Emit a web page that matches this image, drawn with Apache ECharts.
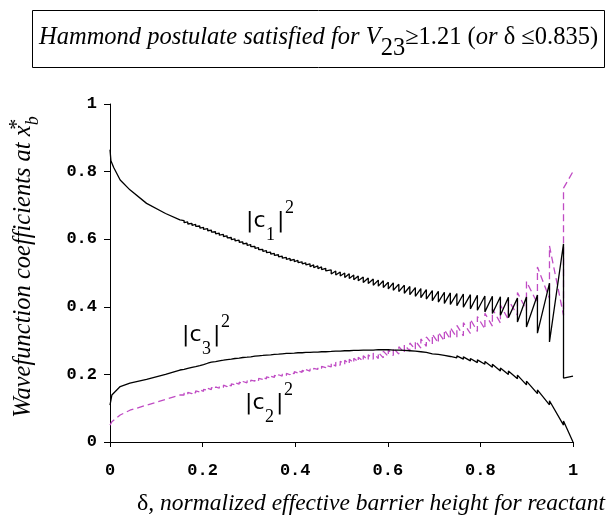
<!DOCTYPE html>
<html>
<head>
<meta charset="utf-8">
<script src="https://cdn.jsdelivr.net/npm/echarts@6/dist/echarts.min.js"></script>
<style>
  html, body { margin: 0; padding: 0; background: #fff; }
  #chart { width: 611px; height: 521px; }
</style>
</head>
<body>
<div id="chart"></div>
<script>
// tick labels
const xTicks = [0, 0.2, 0.4, 0.6, 0.8, 1]
const yTicks = [0, 0.2, 0.4, 0.6, 0.8, 1]

// smooth start of each curve, [delta, value]
const c1Head = [[0, 0.865], [0.002, 0.832], [0.008, 0.812], [0.022, 0.775], [0.043, 0.746], [0.079, 0.706],
  [0.12, 0.676], [0.151, 0.657]]
const c2Head = [[0, 0.05], [0.004, 0.06], [0.022, 0.08], [0.043, 0.094], [0.079, 0.109], [0.12, 0.126],
  [0.151, 0.139]]
const c3Head = [[0, 0.109], [0.004, 0.139], [0.022, 0.164], [0.043, 0.174], [0.079, 0.185], [0.12, 0.2],
  [0.151, 0.213]]

// positions of the saw-tooth jumps (small ripples first, then the big teeth)
const dropAt = [0.160, 0.168, 0.177, 0.185, 0.194, 0.202, 0.211, 0.219, 0.228, 0.236,
  0.245, 0.253, 0.262, 0.270, 0.279, 0.287, 0.296, 0.304, 0.313, 0.321,
  0.330, 0.338, 0.347, 0.355, 0.364, 0.372, 0.381, 0.389, 0.398, 0.406,
  0.415, 0.423, 0.432, 0.440, 0.449, 0.457, 0.466,
  0.4778, 0.4876, 0.4973, 0.5070, 0.5168, 0.5265, 0.5362, 0.5470, 0.5578, 0.5686,
  0.5795, 0.5903, 0.6011, 0.6119, 0.6238, 0.6357, 0.6476, 0.6595, 0.6714, 0.6832,
  0.6962, 0.7092, 0.7222, 0.7351, 0.7492, 0.7632, 0.7784, 0.7935, 0.8097, 0.8259,
  0.8432, 0.8605, 0.8800, 0.8995, 0.9232, 0.9492, 0.9795]

// |c1|^2 just before / after each jump
const c1Before = [0.655, 0.651, 0.647, 0.644, 0.639, 0.635, 0.631, 0.627, 0.622, 0.618,
  0.614, 0.610, 0.605, 0.601, 0.597, 0.592, 0.588, 0.584, 0.579, 0.575,
  0.570, 0.566, 0.562, 0.558, 0.554, 0.550, 0.546, 0.543, 0.540, 0.537,
  0.533, 0.530, 0.527, 0.524, 0.521, 0.518, 0.514,
  0.509, 0.506, 0.503, 0.500, 0.498, 0.494, 0.491, 0.488, 0.485, 0.482,
  0.479, 0.477, 0.473, 0.471, 0.467, 0.464, 0.460, 0.457, 0.454, 0.451,
  0.448, 0.446, 0.443, 0.441, 0.439, 0.438, 0.436, 0.434, 0.432, 0.431,
  0.430, 0.428, 0.426, 0.429, 0.435, 0.470, 0.586]
const c1After = [0.649, 0.645, 0.641, 0.638, 0.633, 0.629, 0.625, 0.621, 0.616, 0.612,
  0.608, 0.604, 0.599, 0.595, 0.591, 0.586, 0.582, 0.578, 0.573, 0.569,
  0.564, 0.560, 0.556, 0.552, 0.548, 0.544, 0.540, 0.537, 0.534, 0.531,
  0.527, 0.524, 0.519, 0.516, 0.513, 0.510, 0.506,
  0.497, 0.494, 0.491, 0.487, 0.484, 0.480, 0.477, 0.472, 0.469, 0.464,
  0.461, 0.457, 0.453, 0.449, 0.445, 0.440, 0.436, 0.431, 0.427, 0.423,
  0.418, 0.414, 0.410, 0.407, 0.403, 0.399, 0.394, 0.390, 0.385, 0.380,
  0.375, 0.368, 0.355, 0.340, 0.322, 0.296, 0.189]

// |c2|^2
const c2Before = [0.139, 0.141, 0.143, 0.145, 0.148, 0.150, 0.153, 0.155, 0.157, 0.159,
  0.162, 0.164, 0.166, 0.169, 0.171, 0.173, 0.175, 0.177, 0.180, 0.182,
  0.185, 0.187, 0.189, 0.191, 0.193, 0.195, 0.197, 0.199, 0.202, 0.204,
  0.206, 0.208, 0.210, 0.212, 0.215, 0.218, 0.220,
  0.222, 0.224, 0.227, 0.229, 0.231, 0.234, 0.237, 0.239, 0.242, 0.245,
  0.247, 0.249, 0.253, 0.256, 0.260, 0.264, 0.269, 0.273, 0.278, 0.283,
  0.289, 0.293, 0.299, 0.304, 0.309, 0.314, 0.321, 0.327, 0.334, 0.343,
  0.352, 0.362, 0.375, 0.390, 0.410, 0.425, 0.375]
const c2After = [0.145, 0.147, 0.149, 0.151, 0.154, 0.156, 0.159, 0.161, 0.163, 0.165,
  0.168, 0.170, 0.172, 0.175, 0.177, 0.179, 0.181, 0.183, 0.186, 0.188,
  0.191, 0.193, 0.195, 0.197, 0.199, 0.201, 0.203, 0.205, 0.208, 0.210,
  0.212, 0.214, 0.216, 0.218, 0.221, 0.224, 0.227,
  0.234, 0.236, 0.239, 0.242, 0.245, 0.248, 0.251, 0.255, 0.258, 0.263,
  0.265, 0.269, 0.273, 0.278, 0.282, 0.288, 0.293, 0.299, 0.305, 0.311,
  0.319, 0.325, 0.332, 0.338, 0.345, 0.353, 0.363, 0.371, 0.381, 0.394,
  0.405, 0.420, 0.442, 0.475, 0.518, 0.580, 0.751]

// |c3|^2
const c3Before = [0.215, 0.218, 0.221, 0.223, 0.226, 0.229, 0.233, 0.236, 0.238, 0.240,
  0.242, 0.244, 0.245, 0.247, 0.248, 0.250, 0.251, 0.252, 0.254, 0.255,
  0.256, 0.257, 0.258, 0.259, 0.260, 0.261, 0.262, 0.262, 0.263, 0.264,
  0.264, 0.265, 0.265, 0.266, 0.266, 0.267, 0.267,
  0.268, 0.269, 0.269, 0.270, 0.270, 0.271, 0.271, 0.272, 0.272, 0.272,
  0.273, 0.273, 0.273, 0.272, 0.272, 0.271, 0.270, 0.269, 0.267, 0.265,
  0.261, 0.259, 0.256, 0.253, 0.249, 0.245, 0.240, 0.235, 0.230, 0.221,
  0.210, 0.200, 0.187, 0.169, 0.143, 0.110, 0.050]
const c3After = [0.218, 0.221, 0.224, 0.226, 0.229, 0.232, 0.236, 0.239, 0.241, 0.243,
  0.245, 0.247, 0.248, 0.250, 0.251, 0.253, 0.254, 0.255, 0.257, 0.258,
  0.259, 0.260, 0.261, 0.262, 0.263, 0.264, 0.265, 0.265, 0.266, 0.267,
  0.267, 0.268, 0.268, 0.269, 0.269, 0.270, 0.270,
  0.271, 0.272, 0.272, 0.273, 0.273, 0.274, 0.274, 0.275, 0.275, 0.275,
  0.276, 0.276, 0.276, 0.275, 0.275, 0.274, 0.273, 0.272, 0.270, 0.268,
  0.266, 0.264, 0.261, 0.258, 0.255, 0.252, 0.247, 0.243, 0.238, 0.230,
  0.219, 0.210, 0.198, 0.180, 0.154, 0.122, 0.062]

const c1End = [1, 0.195]
const c2End = [1, 0.80]
const c3End = [1, 0]

const build = (head, before, after, end) => {
  const pts = head.slice()
  dropAt.forEach((d, i) => {
    pts.push([d, before[i]])
    pts.push([d, after[i]])
  })
  pts.push(end)
  return pts
}

const chart = echarts.init(document.getElementById('chart'), null, { renderer: 'canvas' })

const serif = '"Liberation Serif", "Times New Roman", serif'
const sans = '"DejaVu Sans", sans-serif'
const mono = '"Liberation Mono", "Courier New", monospace'

// one label like |c1|^2 built from pieces
const coef = (x, y, n) => [
  { type: 'text', x: x, y: y, style: { text: '|c', font: '22px ' + sans, fill: '#000' } },
  { type: 'text', x: x + 20, y: y + 16, style: { text: n, font: '18px ' + serif, fill: '#000' } },
  { type: 'text', x: x + 31, y: y, style: { text: '|', font: '22px ' + sans, fill: '#000' } },
  { type: 'text', x: x + 39, y: y - 11, style: { text: '2', font: '18px ' + serif, fill: '#000' } }
]

const lineSeries = (name, data, color, dash) => ({
  name: name,
  type: 'line',
  data: data,
  showSymbol: false,
  animation: false,
  silent: true,
  lineStyle: { color: color, width: 1.3, type: dash ? [7, 4] : 'solid' }
})

chart.setOption({
  backgroundColor: '#fff',
  animation: false,
  grid: { left: 110, right: 38, top: 104, bottom: 79 },
  xAxis: {
    type: 'value', min: 0, max: 1, interval: 0.2,
    splitLine: { show: false },
    axisLine: { lineStyle: { color: '#000', width: 1 } },
    axisTick: { length: 5, lineStyle: { color: '#000' } },
    axisLabel: {
      color: '#000', fontFamily: mono, fontWeight: 'bold', fontSize: 17, margin: 20,
      formatter: v => String(xTicks.find(t => Math.abs(t - v) < 1e-9) ?? v)
    }
  },
  yAxis: {
    type: 'value', min: 0, max: 1, interval: 0.2,
    splitLine: { show: false },
    axisLine: { show: true, lineStyle: { color: '#000', width: 1 } },
    axisTick: { show: true, length: 6, lineStyle: { color: '#000' } },
    axisLabel: {
      color: '#000', fontFamily: mono, fontWeight: 'bold', fontSize: 17, margin: 13,
      formatter: v => String(yTicks.find(t => Math.abs(t - v) < 1e-9) ?? v)
    }
  },
  series: [
    lineSeries('c2', build(c2Head, c2Before, c2After, c2End), '#c04cc4', true),
    lineSeries('c3', build(c3Head, c3Before, c3After, c3End), '#000', false),
    lineSeries('c1', build(c1Head, c1Before, c1After, c1End), '#000', false)
  ],
  graphic: [
    { type: 'rect', shape: { x: 32.5, y: 10.5, width: 572, height: 57 }, style: { fill: 'none', stroke: '#000', lineWidth: 1 } },
    {
      type: 'text', x: 39, y: 38,
      style: {
        text: '{i|Hammond postulate satisfied for V}{s|23}{r|≥1.21 (}{i|or}{r| δ ≤0.835)}',
        verticalAlign: 'middle',
        rich: {
          i: { font: 'italic 24.5px ' + serif, fill: '#000', lineHeight: 46, verticalAlign: 'middle' },
          r: { font: '24.5px ' + serif, fill: '#000', lineHeight: 46, verticalAlign: 'middle' },
          s: { font: '24.5px ' + serif, fill: '#000', lineHeight: 46, verticalAlign: 'bottom' }
        }
      }
    },
    {
      type: 'text', x: 24, y: 267, rotation: Math.PI / 2,
      style: {
        text: '{i|Wavefunction coefficients at x}{p|*}{b|b}',
        align: 'center', verticalAlign: 'middle',
        rich: {
          i: { font: 'italic 24.5px ' + serif, fill: '#000', lineHeight: 36, verticalAlign: 'middle' },
          p: { font: 'italic 22px ' + serif, fill: '#000', lineHeight: 36, verticalAlign: 'top', width: 0 },
          b: { font: 'italic 18px ' + serif, fill: '#000', lineHeight: 36, verticalAlign: 'bottom' }
        }
      }
    },
    {
      type: 'text', x: 137, y: 504,
      style: {
        text: '{r|δ}{i|, normalized effective barrier height for reactant}',
        verticalAlign: 'middle',
        rich: {
          r: { font: '24px ' + serif, fill: '#000' },
          i: { font: 'italic 23.5px ' + serif, fill: '#000' }
        }
      }
    },
    ...coef(246, 210, '1'),
    ...coef(182, 324, '3'),
    ...coef(245, 392, '2')
  ]
})
</script>
</body>
</html>
